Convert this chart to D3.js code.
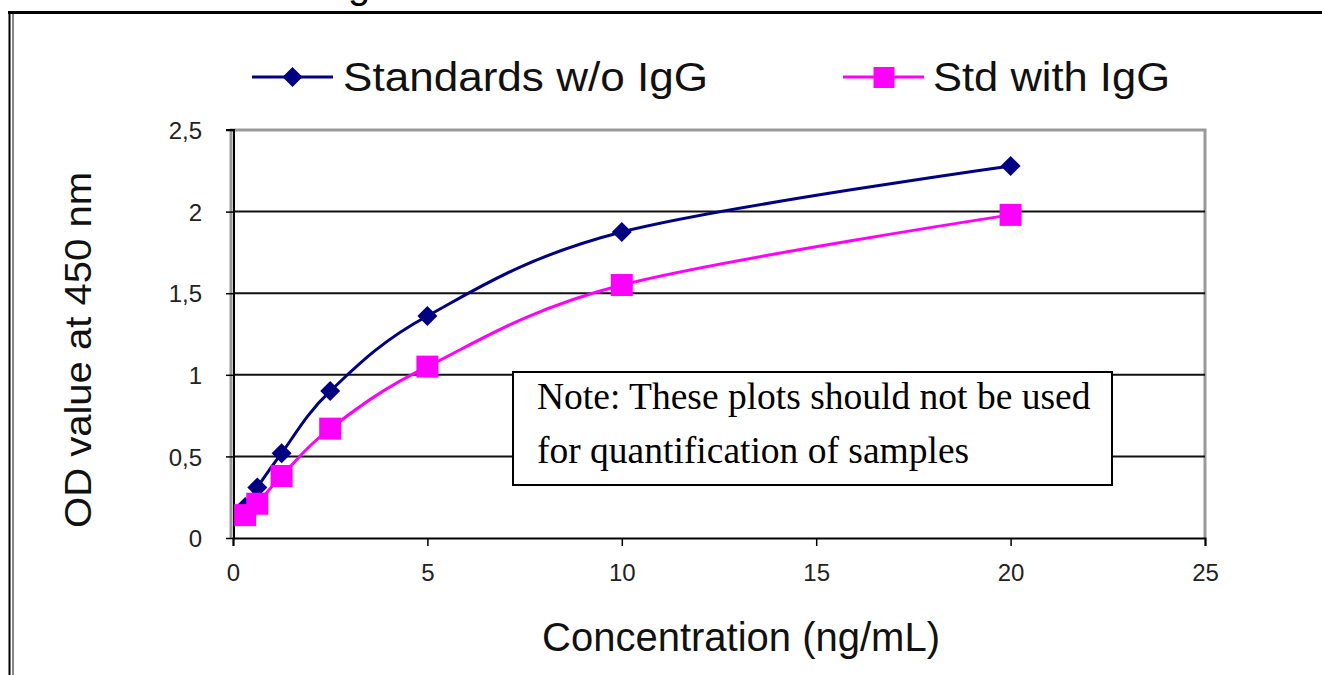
<!DOCTYPE html>
<html><head><meta charset="utf-8">
<script src="https://cdn.jsdelivr.net/npm/d3@7"></script>
<style>html,body{margin:0;padding:0;background:#fff;overflow:hidden}</style>
</head><body>
<svg id="c" width="1322" height="675"></svg>
<script>
const concentrations = [0.3125, 0.625, 1.25, 2.5, 5, 10, 20];
const stdNoIgG = [0.19, 0.31, 0.52, 0.90, 1.36, 1.875, 2.28];
const stdWithIgG = [0.14, 0.21, 0.38, 0.67, 1.05, 1.55, 1.98];
const xTicks = [0, 5, 10, 15, 20, 25];
const yTicks = [0, 0.5, 1, 1.5, 2, 2.5];
const seriesNames = ["Standards w/o IgG", "Std with IgG"];
const noteLines = ["Note: These plots should not be used", "for quantification of samples"];

const svg = d3.select("#c");
const x = d3.scaleLinear().domain([0, 25]).range([233, 1205]);
const y = d3.scaleLinear().domain([0, 2.5]).range([538, 130]);
const fmt = v => String(v).replace(".", ",");

// outer frame
svg.append("line").attr("x1", 8).attr("x2", 1322).attr("y1", 12.5).attr("y2", 12.5).attr("stroke", "#000").attr("stroke-width", 3);
svg.append("line").attr("x1", 9.5).attr("x2", 9.5).attr("y1", 11).attr("y2", 675).attr("stroke", "#000").attr("stroke-width", 2);
svg.append("line").attr("x1", 13).attr("x2", 13).attr("y1", 14).attr("y2", 675).attr("stroke", "#888").attr("stroke-width", 2);

// cropped title glyph (the reference shows only the descender of a cut-off title)
svg.append("text").attr("x", 348).attr("y", -2).attr("font-family", "Liberation Sans, Arial, sans-serif").attr("font-size", 40).text("g");

// plot border (gray)
svg.append("path").attr("d", `M${x(0)-2},${y(0)} V${y(2.5)} H${x(25)} V${y(0)}`).attr("fill", "none").attr("stroke", "#999").attr("stroke-width", 3);

// gridlines
svg.append("g").selectAll("line").data(yTicks.filter(v => v > 0 && v < 2.5)).join("line")
  .attr("x1", x(0)).attr("x2", x(25)).attr("y1", d => y(d)).attr("y2", d => y(d))
  .attr("stroke", "#111").attr("stroke-width", 2);

// axes
const xAxis = svg.append("g").attr("transform", `translate(0,${y(0)})`)
  .call(d3.axisBottom(x).tickValues(xTicks).tickSize(8).tickFormat(fmt));
const yAxis = svg.append("g").attr("transform", `translate(${x(0)+1},0)`)
  .call(d3.axisLeft(y).tickValues(yTicks).tickSize(8).tickFormat(fmt));
[xAxis, yAxis].forEach(a => {
  a.select(".domain").attr("stroke", "#000").attr("stroke-width", 2);
  a.selectAll(".tick line").attr("stroke", "#000").attr("stroke-width", 1.5);
  a.selectAll(".tick text").attr("font-family", "Liberation Sans, Arial, sans-serif").attr("font-size", 24).attr("fill", "#222");
});
yAxis.select(".domain").attr("d", `M-8,${y(2.5)}H0V${y(0)}`);
xAxis.selectAll(".tick text").attr("dy", "0").attr("y", 43);
yAxis.selectAll(".tick text").attr("x", -32).attr("dy", "0.36em");

// axis titles
svg.append("text").attr("x", 741).attr("y", 651).attr("text-anchor", "middle")
  .attr("font-family", "Liberation Sans, Arial, sans-serif").attr("font-size", 40).attr("fill", "#111")
  .text("Concentration (ng/mL)");
svg.append("text").attr("transform", "translate(91,350) rotate(-90)").attr("text-anchor", "middle")
  .attr("font-family", "Liberation Sans, Arial, sans-serif").attr("font-size", 37).attr("fill", "#111")
  .attr("textLength", 356).attr("lengthAdjust", "spacingAndGlyphs")
  .text("OD value at 450 nm");

// series
const line = d3.line().x(d => x(d[0])).y(d => y(d[1])).curve(d3.curveCatmullRom.alpha(0));
const s1 = concentrations.map((c, i) => [c, stdNoIgG[i]]);
const s2 = concentrations.map((c, i) => [c, stdWithIgG[i]]);
const navy = "#000080", magenta = "#FF00FF";

svg.append("path").datum(s1).attr("d", line).attr("fill", "none").attr("stroke", navy).attr("stroke-width", 3);
svg.append("g").selectAll("path").data(s1).join("path")
  .attr("transform", d => `translate(${x(d[0])},${y(d[1])})`)
  .attr("d", "M0,-10L10,0L0,10L-10,0Z").attr("fill", navy);

svg.append("path").datum(s2).attr("d", line).attr("fill", "none").attr("stroke", magenta).attr("stroke-width", 3);
svg.append("g").selectAll("rect").data(s2).join("rect")
  .attr("x", d => x(d[0]) - 11).attr("y", d => y(d[1]) - 11).attr("width", 22).attr("height", 22).attr("fill", magenta);

// legend
const leg = [
  {name: seriesNames[0], color: navy, x1: 252, x2: 333, tx: 343, tl: 365, shape: "diamond"},
  {name: seriesNames[1], color: magenta, x1: 843, x2: 924, tx: 933, tl: 237, shape: "square"}
];
leg.forEach(l => {
  const g = svg.append("g");
  g.append("line").attr("x1", l.x1).attr("x2", l.x2).attr("y1", 77).attr("y2", 77).attr("stroke", l.color).attr("stroke-width", 3);
  const cx = (l.x1 + l.x2) / 2;
  if (l.shape === "diamond") g.append("path").attr("d", `M${cx},67L${cx+10},77L${cx},87L${cx-10},77Z`).attr("fill", l.color);
  else g.append("rect").attr("x", cx - 10).attr("y", 67).attr("width", 21).attr("height", 21).attr("fill", l.color);
  g.append("text").attr("x", l.tx).attr("y", 91).attr("font-family", "Liberation Sans, Arial, sans-serif")
    .attr("font-size", 40).attr("fill", "#111").attr("textLength", l.tl).attr("lengthAdjust", "spacingAndGlyphs").text(l.name);
});

// note box
svg.append("rect").attr("x", 513).attr("y", 372).attr("width", 599).attr("height", 113)
  .attr("fill", "#fff").attr("stroke", "#000").attr("stroke-width", 2);
svg.append("g").selectAll("text").data(noteLines).join("text")
  .attr("x", 537).attr("y", (d, i) => 409 + i * 54)
  .attr("font-family", "Liberation Serif, Times New Roman, serif").attr("font-size", 37.5).attr("fill", "#000")
  .text(d => d);
</script>
</body></html>
